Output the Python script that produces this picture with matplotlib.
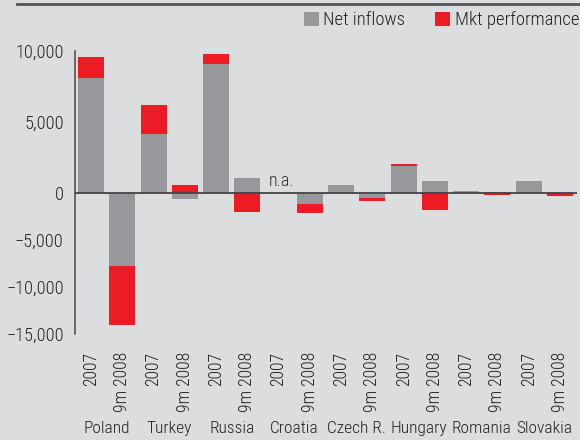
import numpy as np
import matplotlib
matplotlib.use("Agg")
import matplotlib.pyplot as plt
from matplotlib.ticker import FuncFormatter
from matplotlib.transforms import blended_transform_factory

countries = ["Poland", "Turkey", "Russia", "Croatia", "Czech R.",
             "Hungary", "Romania", "Slovakia"]
periods = ["2007", "9m 2008"]
# order: country by country, 2007 then 9m 2008 (nan = n.a.)
net_inflows = [8100, -7770, 4150, -620, 9100, 1050, np.nan, -1170,
               540, -560, 1880, 820, 120, 100, 820, -50]
mkt_perf = [1500, -6270, 2050, 560, 700, -2000, np.nan, -950,
            0, -290, 150, -1840, 0, -200, 30, -250]
yticks = [10000, 5000, 0, -5000, -10000, -15000]

GREY = "#97989b"
RED = "#ed1c24"
BG = "#dcdddf"
TXT = "#222222"
FONT = ["Roboto Condensed", "Roboto", "DejaVu Sans"]

# the source chart squeezes the negative half of the axis
NEG = 0.662


def fwd(v):
    v = np.asarray(v, dtype=float)
    return np.where(v >= 0, v, v * NEG)


def inv(v):
    v = np.asarray(v, dtype=float)
    return np.where(v >= 0, v, v / NEG)


def main():
    plt.rcParams['font.family'] = FONT
    plt.rcParams['font.weight'] = 'light'
    fig = plt.figure(figsize=(5.8, 4.4), dpi=100, facecolor=BG)
    ax = fig.add_axes([0.129, 0.241, 0.866, 0.643], facecolor=BG)
    ax.set_yscale("function", functions=(fwd, inv))

    net = np.array(net_inflows, dtype=float)
    mkt = np.array(mkt_perf, dtype=float)
    x = np.arange(len(net))

    # stack positives upward and negatives downward from zero
    mkt_b = np.nan_to_num(np.where(np.sign(mkt) == np.sign(net), net, 0.0))

    w = 0.83
    ax.bar(x, np.nan_to_num(net), w, color=GREY, label="Net inflows",
           zorder=2)
    ax.bar(x, np.nan_to_num(mkt), w, bottom=mkt_b, color=RED,
           label="Mkt performance", zorder=2)

    ax.axhline(0, color="#444446", lw=1.3, zorder=3)
    ax.text(6.1, 200, "n.a.", ha="center", va="bottom", fontsize=13,
            color="#333333")

    ax.set_xlim(-0.52, 15.55)
    ax.set_ylim(-15000, 10000)
    ax.set_yticks(yticks)
    ax.yaxis.set_major_formatter(
        FuncFormatter(lambda v, p: f"{v:,.0f}".replace("-", "\u2212")))
    ax.tick_params(axis="y", length=0, pad=8, labelsize=13.2,
                   labelcolor=TXT)
    ax.set_xticks([])
    for s in ["top", "right", "bottom"]:
        ax.spines[s].set_visible(False)
    ax.spines["left"].set_color("#555555")
    ax.spines["left"].set_linewidth(1.2)

    # rotated period labels, country names below them
    for i in x:
        ax.text(i, -0.062, periods[i % 2], rotation=90, ha="center",
                va="top", fontsize=12.8, color=TXT,
                transform=ax.get_xaxis_transform())
    name_tr = blended_transform_factory(ax.transData, fig.transFigure)
    for k, c in enumerate(countries):
        ax.text(2 * k + 0.5, 0.027, c, ha="center", va="center",
                fontsize=12.5, color=TXT, transform=name_tr)

    leg = fig.legend(loc="upper right", bbox_to_anchor=(1.018, 1.0), ncol=2,
                     frameon=False, fontsize=13.4, handlelength=0.8,
                     handleheight=0.8, handletextpad=0.25, columnspacing=1.6,
                     borderaxespad=0.2)
    for t in leg.get_texts():
        t.set_color(TXT)

    fig.add_artist(plt.Line2D([0.03, 1.0], [0.99, 0.99], color="#555555",
                              lw=2, transform=fig.transFigure))

    fig.savefig("out.png", dpi=100, facecolor=BG)


if __name__ == "__main__":
    main()
